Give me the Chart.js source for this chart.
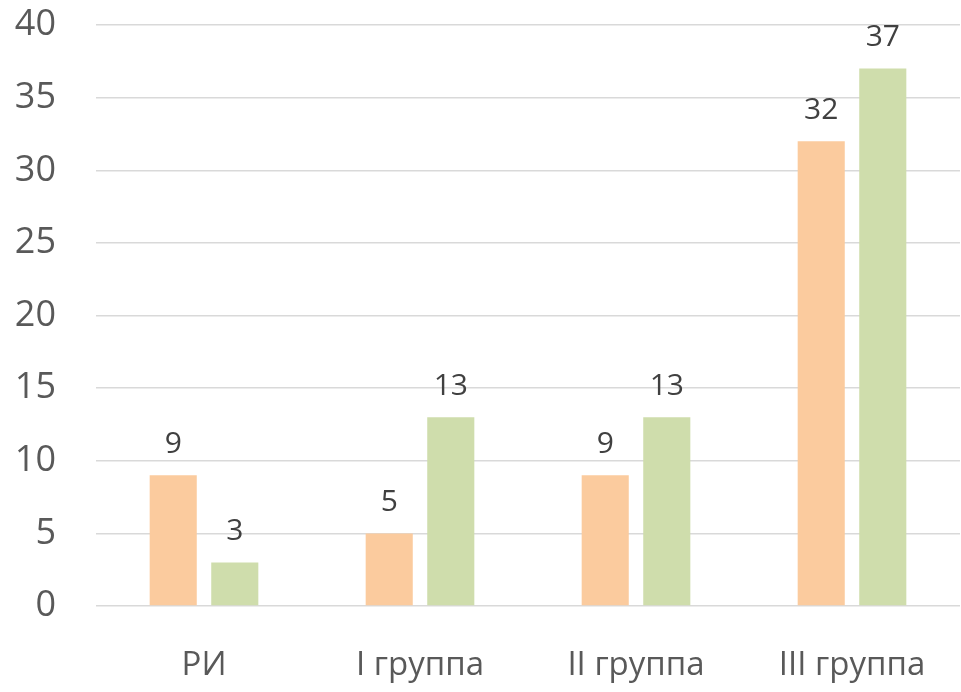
<!DOCTYPE html>
<html>
<head>
<meta charset="utf-8">
<script src="https://cdn.jsdelivr.net/npm/chart.js@4"></script>
<style>
html, body { margin: 0; padding: 0; background: #fff; }
canvas { display: block; }
</style>
</head>
<body>
<canvas id="chart" width="961" height="692"></canvas>
<script>
// ---------- DATA ----------
const categories = ["РИ", "I группа", "II группа", "III группа"];
const seriesA = [9, 5, 9, 32];
const seriesB = [3, 13, 13, 37];
const yTicks = [0, 5, 10, 15, 20, 25, 30, 35, 40];

// value labels above each bar
const valueLabels = {
  id: "valueLabels",
  afterDatasetsDraw(chart){
    const ctx = chart.ctx;
    ctx.save();
    ctx.font = "30px 'Open Sans'";
    ctx.fillStyle = "#404040";
    ctx.textAlign = "center";
    ctx.textBaseline = "bottom";
    chart.data.datasets.forEach((ds, i) => {
      chart.getDatasetMeta(i).data.forEach((bar, j) => {
        ctx.fillText(ds.data[j], bar.x, bar.y - 16);
      });
    });
    ctx.restore();
  }
};

new Chart(document.getElementById("chart"), {
  type: "bar",
  data: {
    labels: categories,
    datasets: [
      { data: seriesA, backgroundColor: "#FBCB9E" },
      { data: seriesB, backgroundColor: "#CFDDAC" }
    ]
  },
  options: {
    responsive: false,
    animation: false,
    categoryPercentage: 0.57,
    barPercentage: 0.765,
    layout: { padding: { top: 25, right: 1, left: 0, bottom: 0 } },
    plugins: { legend: { display: false }, tooltip: { enabled: false } },
    scales: {
      x: {
        grid: { display: false },
        border: { display: false },
        ticks: { color: "#595959", font: { family: "Open Sans", size: 33 }, padding: 32 },
        afterFit(scale){ scale.height = 86; }
      },
      y: {
        min: 0,
        max: 40,
        afterBuildTicks(scale){ scale.ticks = yTicks.map(v => ({ value: v })); },
        grid: { color: "#d9d9d9", lineWidth: 1.5, drawTicks: false },
        border: { display: false },
        ticks: { color: "#595959", font: { family: "Open Sans", size: 36 }, padding: 40 },
        afterFit(scale){
          scale.width = 96;
          scale.paddingTop = 0;
          scale.paddingBottom = 0;
        }
      }
    }
  },
  plugins: [valueLabels]
});
</script>
</body>
</html>
